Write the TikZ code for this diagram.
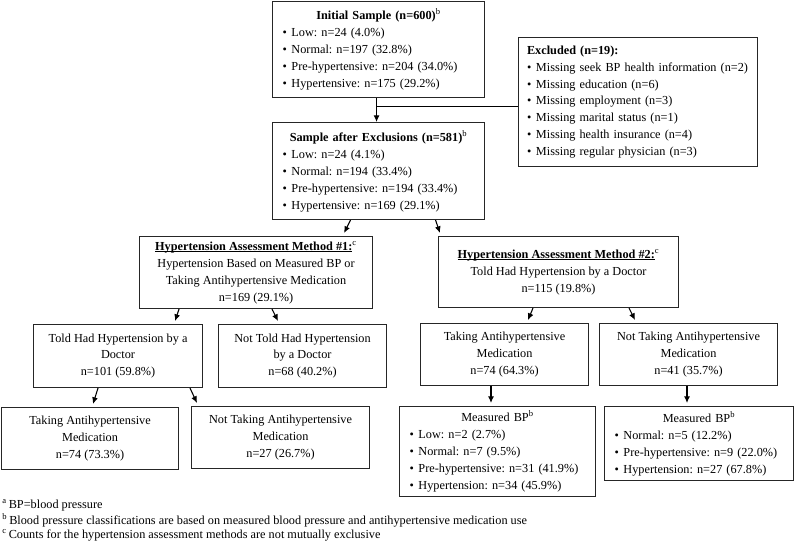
\documentclass[tikz,border=0pt]{standalone}
\usepackage{fontspec}
\setmainfont{Liberation Serif}
\usepackage{tikz}
\usetikzlibrary{arrows.meta,calc}
\frenchspacing
\newcommand{\bul}{\textbullet\hspace{3.5pt}}
\newcommand{\hd}[1]{\makebox[\linewidth]{#1}}
\newcommand{\undl}[1]{\setbox0=\hbox{#1}\rlap{\rule[-1.3pt]{\wd0}{0.55pt}}\box0}

\begin{document}
\begin{tikzpicture}[x=0.75pt,y=-0.75pt,
	box/.style={draw=black!85,line width=0.8pt,anchor=north west,inner sep=0pt,font=\fontsize{9.2}{12.7}\selectfont},
	arr/.style={-{Latex[length=5pt,width=4.5pt]},line width=0.8pt},
	note/.style={anchor=west,inner sep=0pt,font=\fontsize{9.2}{12.7}\selectfont}]
	\useasboundingbox (0,0) rectangle (800,543);
	\node[box,minimum width=159pt,minimum height=72pt,text width=144pt,align=left] (init) at (272,1)
		{\hd{\textbf{Initial Sample (n=600)}\textsuperscript{b}}\\
		\bul Low: n=24 (4.0\%)\\
		\bul Normal: n=197 (32.8\%)\\
		\bul Pre-hypertensive: n=204 (34.0\%)\\
		\bul Hypertensive: n=175 (29.2\%)};
	\node[box,minimum width=179.25pt,minimum height=96.75pt,text width=166.5pt,align=left] (excl) at (518,37)
		{\textbf{Excluded (n=19):}\\
		\bul Missing seek BP health information (n=2)\\
		\bul Missing education (n=6)\\
		\bul Missing employment (n=3)\\
		\bul Missing marital status (n=1)\\
		\bul Missing health insurance (n=4)\\
		\bul Missing regular physician (n=3)};
	\node[box,minimum width=159pt,minimum height=72.75pt,text width=144pt,align=left] (sample) at (272,122)
		{\hd{\textbf{Sample after Exclusions (n=581)}\textsuperscript{b}}\\
		\bul Low: n=24 (4.1\%)\\
		\bul Normal: n=194 (33.4\%)\\
		\bul Pre-hypertensive: n=194 (33.4\%)\\
		\bul Hypertensive: n=169 (29.1\%)};
	\node[box,minimum width=174.75pt,minimum height=54pt,align=center] (meth1) at (139,236)
		{\undl{\textbf{Hypertension Assessment Method \#1:}}\textsuperscript{c}\\
		Hypertension Based on Measured BP or\\
		Taking Antihypertensive Medication\\
		n=169 (29.1\%)};
	\node[box,minimum width=180pt,minimum height=53.25pt,align=center] (meth2) at (438,236)
		{\undl{\textbf{Hypertension Assessment Method \#2:}}\textsuperscript{c}\\
		Told Had Hypertension by a Doctor\\
		n=115 (19.8\%)};
	\node[box,minimum width=126.75pt,minimum height=47.25pt,align=center] (told) at (33,324)
		{Told Had Hypertension by a\\ Doctor\\ n=101 (59.8\%)};
	\node[box,minimum width=126pt,minimum height=47.25pt,align=center] (nottold) at (218,324)
		{Not Told Had Hypertension\\ by a Doctor\\ n=68 (40.2\%)};
	\node[box,minimum width=126pt,minimum height=46.5pt,align=center] (takr) at (420,323)
		{Taking Antihypertensive\\ Medication\\ n=74 (64.3\%)};
	\node[box,minimum width=133.5pt,minimum height=46.5pt,align=center] (ntakr) at (599,323)
		{Not Taking Antihypertensive\\ Medication\\ n=41 (35.7\%)};
	\node[box,minimum width=132.75pt,minimum height=46.5pt,align=center] (takl) at (1,407)
		{Taking Antihypertensive\\ Medication\\ n=74 (73.3\%)};
	\node[box,minimum width=133.5pt,minimum height=46.5pt,align=center] (ntakl) at (191,406)
		{Not Taking Antihypertensive\\ Medication\\ n=27 (26.7\%)};
	\node[box,minimum width=147pt,minimum height=67.5pt,text width=132pt,align=left] (measl) at (399,406)
		{\hd{Measured BP\textsuperscript{b}}\\
		\bul Low: n=2 (2.7\%)\\
		\bul Normal: n=7 (9.5\%)\\
		\bul Pre-hypertensive: n=31 (41.9\%)\\
		\bul Hypertension: n=34 (45.9\%)};
	\node[box,minimum width=141.75pt,minimum height=55.5pt,text width=126.75pt,align=left] (measr) at (604,406)
		{\hd{Measured BP\textsuperscript{b}}\\
		\bul Normal: n=5 (12.2\%)\\
		\bul Pre-hypertensive: n=9 (22.0\%)\\
		\bul Hypertension: n=27 (67.8\%)};
	\node[note] (fna) at (2,505) {\textsuperscript{a}\,BP=blood pressure};
	\node[note] (fnb) at (2,520) {\textsuperscript{b}\,Blood pressure classifications are based on measured blood pressure and antihypertensive medication use};
	\node[note] (fnc) at (2,535) {\textsuperscript{c}\,Counts for the hypertension assessment methods are not mutually exclusive};
	\coordinate (branch) at ($(init.south)+(-2,8)$);
	\draw[line width=0.8pt] (branch) -- (branch -| excl.west);
	\draw[arr] ($(init.south)+(-2,0)$) -- ($(sample.north)+(-2,0)$);
	\draw[arr] ($(sample.south)+(-28,0)$) -- ($(meth1.north east)+(-29,-3)$);
	\draw[arr] ($(sample.south)+(57,0)$) -- ($(meth2.north west)+(2,-3)$);
	\draw[arr] ($(meth1.south west)+(40,0)$) -- ($(told.north east)+(-28,-3)$);
	\draw[arr] ($(meth1.south west)+(133,0)$) -- ($(nottold.north west)+(60,-3)$);
	\draw[arr] ($(meth2.south west)+(95,0)$) -- ($(takr.north west)+(108,-3)$);
	\draw[arr] ($(meth2.south west)+(191,0)$) -- ($(ntakr.north west)+(36,-3)$);
	\draw[arr] ($(told.south west)+(65,0)$) -- ($(takl.north west)+(92,-3)$);
	\draw[arr] ($(told.south west)+(157,0)$) -- ($(ntakl.north west)+(6,-3)$);
	\draw[arr] ($(takr.south west)+(71,0)$) -- ($(measl.north west)+(92,-3)$);
	\draw[arr] ($(ntakr.south west)+(88,0)$) -- ($(measr.north west)+(83,-3)$);
\end{tikzpicture}
\end{document}
